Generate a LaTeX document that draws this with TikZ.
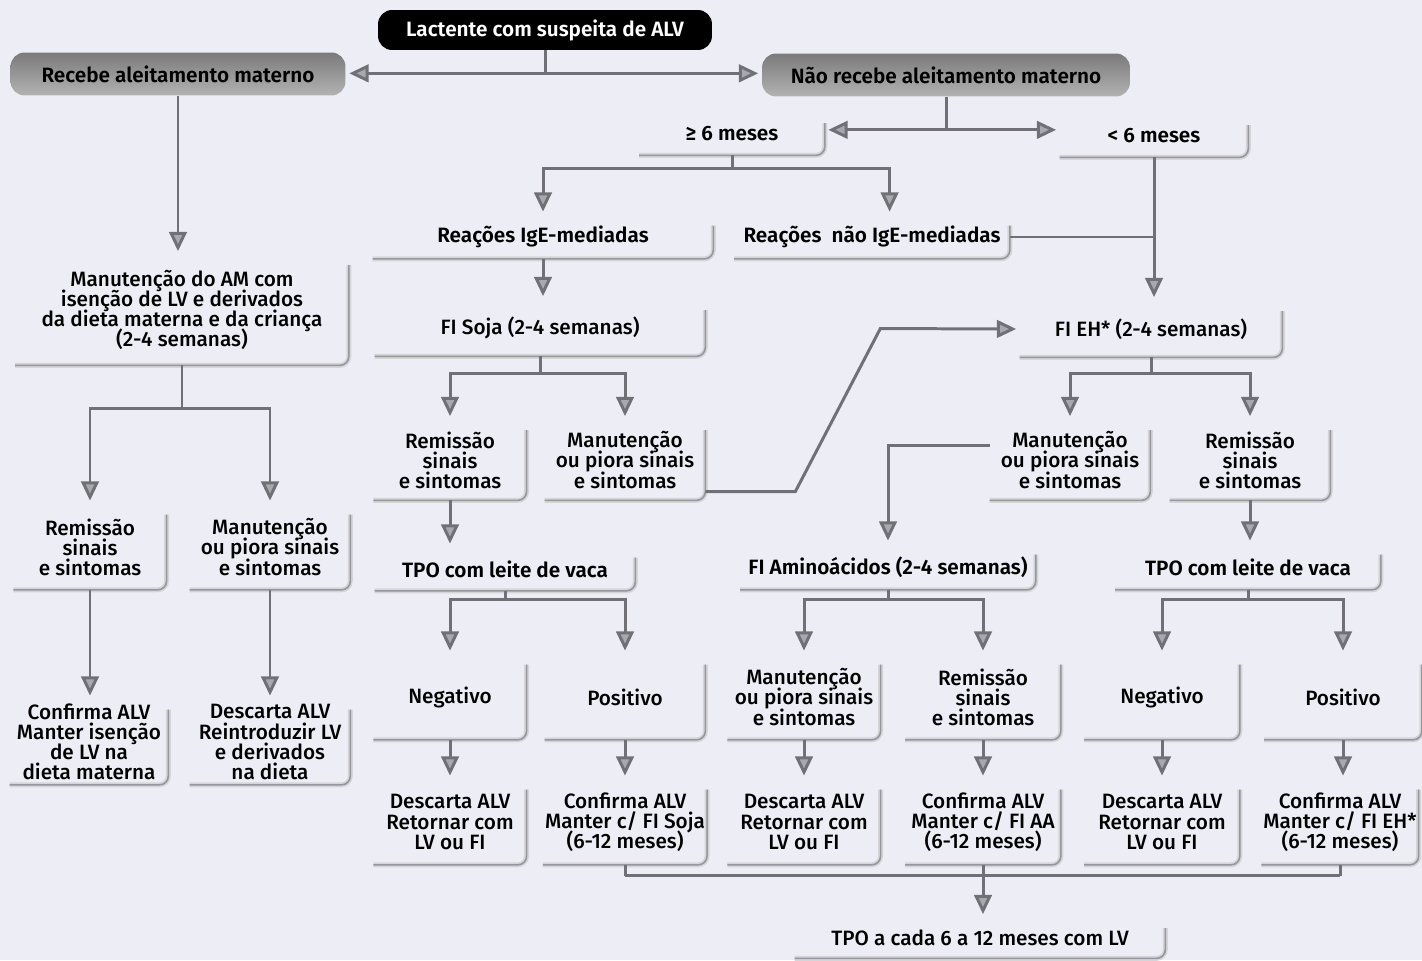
\documentclass[tikz,border=0pt]{standalone}
\usepackage{fontspec}
\setmainfont{Fira Sans}[UprightFont=* Medium, BoldFont=* SemiBold]
\usepackage{xcolor}
\usepackage{tikz}
\usetikzlibrary{arrows.meta, calc, positioning}

\definecolor{fundo}{RGB}{237,237,245}
\definecolor{traco}{RGB}{112,112,118}
\definecolor{pontaseta}{RGB}{168,168,176}
\definecolor{sombra}{RGB}{150,150,158}

% corpo do texto com entrelinha apertada
\newcommand{\corpo}{\fontsize{11.8}{11.4}\selectfont\lineskiplimit=-8pt\lineskip=0pt}

\tikzset{
  texto/.style={font=\corpo, align=center, inner sep=1pt},
  caixa/.style={texto, minimum width=3.05cm, minimum height=1.66cm},
  faixa/.style={texto, minimum height=0.86cm},
  negrito/.style={font=\corpo\bfseries},
  cabeca/.style={texto, negrito, rounded corners=8pt, minimum height=0.86cm,
    top color=black!52, bottom color=black!30},
  linha/.style={draw=traco, line width=1.7pt},
  seta/.style={linha, -{Triangle[length=11pt, width=10pt, fill=pontaseta]}, shorten >=2pt},
  borda/.style={rounded corners=5pt}
}

\begin{document}
\begin{tikzpicture}[x=0.02cm, y=-0.02cm]
    % Fundo e margens
    \fill[fundo] (0,0) rectangle (1422,960);
    \useasboundingbox (0,0) rectangle (1422,960);

    % Topo do fluxograma
    \node[texto, negrito, fill=black, text=white, rounded corners=8pt, minimum width=6.68cm,
      minimum height=0.8cm] (topo) at (545,30) {Lactente com suspeita de ALV};
    \node[cabeca, minimum width=6.7cm] (recebe) at (178,74) {Recebe aleitamento materno};
    \node[cabeca, minimum width=7.36cm] (naorec) at (946,75) {Não recebe aleitamento materno};

    % Idade
    \node[faixa, negrito, minimum width=3.7cm, minimum height=0.84cm] (ge6) at (732,134) {≥ 6 meses};
    \node[faixa, negrito, minimum width=3.76cm, minimum height=0.84cm] (lt6) at (1154,136) {< 6 meses};

    % Tipo de reação
    \node[faixa, negrito, minimum width=6.8cm] (igE) at (543,237) {Reações IgE-mediadas};
    \node[faixa, negrito, minimum width=5.5cm] (naoIgE) at (872,237) {Reações\ \ não IgE-mediadas};

    % Fórmulas
    \node[faixa, minimum width=6.6cm, minimum height=1.12cm] (soja) at (540,328) {FI Soja (2-4 semanas)};
    \node[faixa, minimum width=5.24cm, minimum height=1.12cm] (fiEH) at (1151,329) {FI EH* (2-4 semanas)};

    % Coluna do aleitamento materno
    \node[texto, minimum width=6.66cm, minimum height=2.2cm] (manAM) at (182,310)
      {Manutenção do AM com\\isenção de LV e derivados\\da dieta materna e da criança\\(2-4 semanas)};
    \node[caixa, minimum height=1.7cm] (remL) at (90,547) {Remissão\\sinais\\e sintomas};
    \node[caixa, minimum height=1.7cm, minimum width=3.2cm] (manL) at (270,547) {Manutenção\\ou piora sinais\\e sintomas};
    \node[caixa, minimum height=1.7cm, minimum width=3.16cm] (confL) at (89,742)
      {Confirma ALV\\Manter isenção\\de LV na\\dieta materna};
    \node[caixa, minimum height=1.7cm, minimum width=3.2cm] (descL) at (270,742)
      {Descarta ALV\\Reintroduzir LV\\e derivados\\na dieta};

    % Resposta às fórmulas
    \node[caixa, minimum height=1.6cm] (remS) at (450,460) {Remissão\\sinais\\e sintomas};
    \node[caixa, minimum height=1.6cm, minimum width=3.2cm] (manS) at (625,460) {Manutenção\\ou piora sinais\\e sintomas};
    \node[caixa, minimum height=1.6cm, minimum width=3.2cm] (manE) at (1070,460) {Manutenção\\ou piora sinais\\e sintomas};
    \node[caixa, minimum height=1.6cm, minimum width=3.2cm] (remE) at (1250,460) {Remissão\\sinais\\e sintomas};

    % TPO e fórmula de aminoácidos
    \node[faixa, negrito, minimum width=5.2cm] (tpoS) at (505,569) {TPO com leite de vaca};
    \node[faixa, negrito, minimum width=5.9cm, minimum height=0.9cm] (aa) at (888,567) {FI Aminoácidos (2-4 semanas)};
    \node[faixa, negrito, minimum width=5.3cm, minimum height=0.9cm] (tpoE) at (1248,567) {TPO com leite de vaca};

    % Resultados
    \node[caixa, minimum height=1.7cm] (negS) at (450,697) {Negativo};
    \node[caixa, minimum height=1.7cm, minimum width=3.2cm] (posS) at (625,697) {Positivo};
    \node[caixa, minimum height=1.7cm] (manA) at (804,697) {Manutenção\\ou piora sinais\\e sintomas};
    \node[caixa, minimum height=1.7cm, minimum width=3.1cm] (remA) at (983,697) {Remissão\\sinais\\e sintomas};
    \node[caixa, minimum height=1.7cm, minimum width=3.1cm] (negE) at (1162,697) {Negativo};
    \node[caixa, minimum height=1.7cm, minimum width=3.14cm] (posE) at (1343,697) {Positivo};

    % Condutas
    \node[caixa, minimum height=1.7cm] (descS) at (450,822) {Descarta ALV\\Retornar com\\LV ou FI};
    \node[caixa, minimum height=1.7cm, minimum width=3.2cm] (confS) at (625,822) {Confirma ALV\\Manter c/ FI Soja\\(6-12 meses)};
    \node[caixa, minimum height=1.7cm] (descA) at (804,822) {Descarta ALV\\Retornar com\\LV ou FI};
    \node[caixa, minimum height=1.7cm, minimum width=3.1cm] (confA) at (983,822) {Confirma ALV\\Manter c/ FI AA\\(6-12 meses)};
    \node[caixa, minimum height=1.7cm, minimum width=3.1cm] (descE) at (1162,822) {Descarta ALV\\Retornar com\\LV ou FI};
    \node[caixa, minimum height=1.7cm, minimum width=3cm] (confE) at (1340,822) {Confirma ALV\\Manter c/ FI EH*\\(6-12 meses)};

    \node[faixa, minimum width=7.4cm, minimum height=0.8cm] (final) at (980,938) {TPO a cada 6 a 12 meses com LV};

    % Bordas sombreadas das caixas claras
    \foreach \no in {ge6, lt6, igE, naoIgE, soja, fiEH, manAM, remL, manL, confL, descL,
        remS, manS, manE, remE, tpoS, aa, tpoE, negS, posS, manA, remA, negE, posE,
        descS, confS, descA, confA, descE, confE, final} {
      \draw[borda, sombra!40, line width=2.8pt] ([yshift=-6pt]\no.north east) -- (\no.south east) -- (\no.south west);
      \draw[borda, sombra, line width=0.9pt] ([yshift=-6pt]\no.north east) -- (\no.south east) -- (\no.south west);
    }

    % Ligações do topo
    \draw[linha] (topo.south) -- ++(0,23) coordinate (t1);
    \draw[seta] (t1) -- (t1 -| recebe.east);
    \draw[seta] (t1) -- (t1 -| naorec.west);
    \draw[linha] (naorec.south) -- ++(0,33) coordinate (n1);
    \draw[seta] (n1) -- (n1 -| ge6.east);
    \draw[seta] (n1) -- (n1 -| lt6.west);

    % Aleitamento materno
    \draw[seta] (recebe.south) -- (recebe.south |- manAM.north);
    \draw[linha] (manAM.south) -- ++(0,43) coordinate (a1);
    \draw[seta] (a1) -| (remL.north);
    \draw[seta] (a1) -| (manL.north);
    \draw[seta] (remL.south) -- (remL.south |- confL.north);
    \draw[seta] (manL.south) -- (manL.south |- descL.north);

    % >= 6 meses
    \draw[linha] (ge6.south) -- ++(0,13) coordinate (g1);
    \draw[seta] (g1) -| (igE.north);
    \draw[seta] (g1) -| ([xshift=10pt]naoIgE.north);
    \draw[seta] (igE.south) -- (igE.south |- soja.north);
    \draw[linha] (soja.south) -- ++(0,17) coordinate (s1);
    \draw[seta] (s1) -| (remS.north);
    \draw[seta] (s1) -| (manS.north);
    \draw[seta] (remS.south) -- (remS.south |- tpoS.north);
    \draw[linha] (tpoS.south) -- ++(0,9) coordinate (s2);
    \draw[seta] (s2) -| (negS.north);
    \draw[seta] (s2) -| (posS.north);
    \draw[seta] (negS.south) -- (descS.north);
    \draw[seta] (posS.south) -- (confS.north);
    \draw[seta] ([yshift=5pt]manS.south east) -- ++(90,0) -- ++(85,-163) -- (fiEH.west);

    % < 6 meses
    \draw[seta] (lt6.south) -- (lt6.south |- fiEH.north);
    \draw[linha] (naoIgE.east) -- (naoIgE.east -| lt6.south);
    \draw[linha] (fiEH.south) -- ++(0,16) coordinate (e1);
    \draw[seta] (e1) -| (manE.north);
    \draw[seta] (e1) -| (remE.north);
    \draw[seta] ([yshift=8pt]manE.west) -| (aa.north);
    \draw[seta] (remE.south) -- (remE.south |- tpoE.north);
    \draw[linha] (aa.south) -- ++(0,10) coordinate (e2);
    \draw[seta] (e2) -| (manA.north);
    \draw[seta] (e2) -| (remA.north);
    \draw[linha] (tpoE.south) -- ++(0,10) coordinate (e3);
    \draw[seta] (e3) -| (negE.north);
    \draw[seta] (e3) -| (posE.north);
    \draw[seta] (manA.south) -- (descA.north);
    \draw[seta] (remA.south) -- (confA.north);
    \draw[seta] (negE.south) -- (descE.north);
    \draw[seta] (posE.south) -- (posE.south |- confE.north);

    % Reavaliação
    \draw[linha] (confS.south) -- ++(0,11) coordinate (m1);
    \draw[linha] (confE.south) -- (confE.south |- m1);
    \draw[linha] (m1) -- (m1 -| confE.south);
    \draw[seta] (confA.south) -- (confA.south |- final.north);
\end{tikzpicture}
\end{document}
